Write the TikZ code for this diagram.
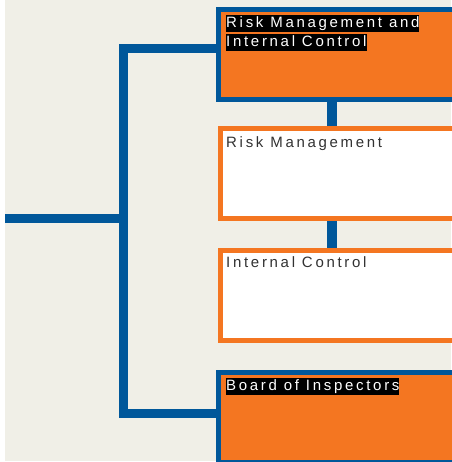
\documentclass[tikz,border=0pt]{standalone}
\usepackage{fontspec}
\newfontfamily\lbl[LetterSpace=18]{Liberation Sans}
\definecolor{bgbeige}{RGB}{240,239,231}
\definecolor{corpblue}{RGB}{0,87,154}
\definecolor{corporange}{RGB}{244,118,33}
\definecolor{txtgray}{RGB}{50,50,50}
\newcommand{\hl}[1]{{\setlength{\fboxsep}{0pt}\colorbox{black}{\textcolor{white}{\rule[-4.5pt]{0pt}{17pt}#1}}}}
\tikzset{
  bluebox/.style={draw=corpblue, fill=corporange, line width=5pt, rectangle, inner sep=0pt, anchor=north west},
  orangebox/.style={draw=corporange, fill=white, line width=5pt, rectangle, inner sep=0pt, anchor=north west},
  link/.style={draw=corpblue, line width=9pt},
  vlink/.style={draw=corpblue, line width=10pt},
  boxtext/.style={anchor=north west, inner sep=0pt, align=left, font=\lbl\fontsize{15}{19}\selectfont},
}
\begin{document}
\begin{tikzpicture}[x=1pt,y=-1pt]
\useasboundingbox (0,0) rectangle (451,462);
\fill[white] (0,0) rectangle (451,462);
\fill[bgbeige] (5,0) rectangle (451,461);
\coordinate (in) at (5,218.5);
\coordinate (j) at (123.5,218.5);
\coordinate (t) at (123.5,48.5);
\coordinate (u) at (123.5,413.5);
\coordinate (v) at (331.5,0);
% box placeholders (for anchors), drawn later on top
\path (215.5,7.5) node[bluebox, minimum width=240pt, minimum height=90pt, draw=none, fill=none] (b1) {};
\path (217.5,126.5) node[orangebox, minimum width=238pt, minimum height=89pt, draw=none, fill=none] (b2) {};
\path (217.5,247.5) node[orangebox, minimum width=238pt, minimum height=90pt, draw=none, fill=none] (b3) {};
\path (215.5,369.5) node[bluebox, minimum width=240pt, minimum height=90pt, draw=none, fill=none] (b4) {};
% connectors
\draw[link] (in) -- (j);
\draw[link, line join=miter] (t -| b1.west) -- (t) -- (u) -- (u -| b4.west);
\draw[vlink] (b1.south -| v) -- (b2.north -| v);
\draw[vlink] (b2.south -| v) -- (b3.north -| v);
% visible boxes
\node[bluebox, minimum width=240pt, minimum height=90pt] (B1) at (b1.north west) {};
\node[orangebox, minimum width=238pt, minimum height=89pt] (B2) at (b2.north west) {};
\node[orangebox, minimum width=238pt, minimum height=90pt] (B3) at (b3.north west) {};
\node[bluebox, minimum width=240pt, minimum height=90pt] (B4) at (b4.north west) {};
% texts
\node[boxtext] (t1) at (226,15) {\hl{Risk Management and}\\\hl{Internal Control}};
\node[boxtext, text=txtgray] (t2) at (226,135) {\rule{0pt}{12.5pt}Risk Management};
\node[boxtext, text=txtgray] (t3) at (226,255) {\rule{0pt}{12.5pt}Internal Control};
\node[boxtext] (t4) at (226,378) {\hl{Board of Inspectors}};
\end{tikzpicture}
\end{document}
